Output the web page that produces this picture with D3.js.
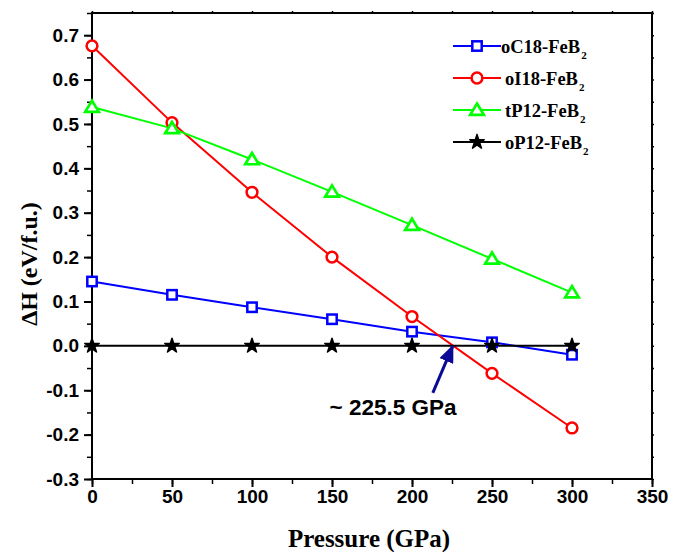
<!DOCTYPE html>
<html>
<head>
<meta charset="utf-8">
<script src="https://cdn.jsdelivr.net/npm/d3@7"></script>
<style>
  body { margin: 0; background: #fff; }
</style>
</head>
<body>
<div id="viz"></div>
<script>
// data
var pressure = [0, 50, 100, 150, 200, 250, 300];
var oC18 = [0.145, 0.115, 0.087, 0.060, 0.032, 0.008, -0.020];
var oI18 = [0.676, 0.503, 0.346, 0.200, 0.066, -0.062, -0.185];
var tP12 = [0.538, 0.490, 0.420, 0.347, 0.272, 0.196, 0.120];
var oP12 = [0, 0, 0, 0, 0, 0, 0];
var seriesNames = ["oC18-FeB", "oI18-FeB", "tP12-FeB", "oP12-FeB"];
var xTicks = [0, 50, 100, 150, 200, 250, 300, 350];
var yTicks = [-0.3, -0.2, -0.1, 0.0, 0.1, 0.2, 0.3, 0.4, 0.5, 0.6, 0.7];
var crossing = 225.5;

var width = 673, height = 552;
var m_left = 92, m_right = 652, m_top = 13, m_bottom = 479;

var svg = d3.select("#viz").append("svg")
  .attr("width", width).attr("height", height);

var x = d3.scaleLinear().domain([0, 350]).range([m_left, m_right]);
var y = d3.scaleLinear().domain([-0.3, 0.75]).range([m_bottom, m_top]);

//==============================================================================
// axes
var minorX = d3.range(0, 351, 25);
var minorY = d3.range(-0.3, 0.751, 0.05);
var yFormat = function(d) { return d3.format(".1f")(d).replace("\u2212", "-"); };

var style_ticks = function(w) {
  return function(g) {
    g.select(".domain").remove();
    g.selectAll("line").attr("stroke-width", w);
    g.selectAll("text")
      .attr("font-family", "'Liberation Sans', Arial, sans-serif")
      .attr("font-weight", "bold")
      .attr("font-size", 19)
      .attr("fill", "#000");
  };
};

svg.append("g")
  .attr("transform", "translate(0," + m_bottom + ")")
  .call(d3.axisBottom(x).tickValues(minorX).tickSize(5).tickFormat(""))
  .call(style_ticks(1.5));
svg.append("g")
  .attr("transform", "translate(0," + m_bottom + ")")
  .call(d3.axisBottom(x).tickValues(xTicks).tickSize(8).tickPadding(3).tickFormat(d3.format("d")))
  .call(style_ticks(2));

svg.append("g")
  .attr("transform", "translate(" + m_left + ",0)")
  .call(d3.axisLeft(y).tickValues(minorY).tickSize(5).tickFormat(""))
  .call(style_ticks(1.5));
svg.append("g")
  .attr("transform", "translate(" + m_left + ",0)")
  .call(d3.axisLeft(y).tickValues(yTicks).tickSize(8).tickPadding(5).tickFormat(yFormat))
  .call(style_ticks(2));

// tiny ticks on top and right
svg.append("g")
  .attr("transform", "translate(0," + m_top + ")")
  .call(d3.axisTop(x).tickValues(minorX).tickSize(2).tickFormat(""))
  .call(style_ticks(1.5));
svg.append("g")
  .attr("transform", "translate(" + m_right + ",0)")
  .call(d3.axisRight(y).tickValues(minorY).tickSize(2).tickFormat(""))
  .call(style_ticks(1.5));

// frame
svg.append("rect")
  .attr("x", m_left).attr("y", m_top)
  .attr("width", m_right - m_left).attr("height", m_bottom - m_top)
  .attr("fill", "none").attr("stroke", "#000").attr("stroke-width", 2);

// axis titles
svg.append("text")
  .attr("x", 369).attr("y", 547)
  .attr("text-anchor", "middle")
  .attr("font-family", "'Liberation Serif', 'Times New Roman', serif")
  .attr("font-weight", "bold").attr("font-size", 25)
  .text("Pressure (GPa)");
svg.append("text")
  .attr("transform", "translate(37,264) rotate(-90)")
  .attr("text-anchor", "middle")
  .attr("font-family", "'Liberation Serif', 'Times New Roman', serif")
  .attr("font-weight", "bold").attr("font-size", 24)
  .text("ΔH (eV/f.u.)");

//==============================================================================
// series
var series = [
  {name: seriesNames[0], values: oC18, color: "#0000ff", marker: "square"},
  {name: seriesNames[1], values: oI18, color: "#ff0000", marker: "circle"},
  {name: seriesNames[2], values: tP12, color: "#00ff00", marker: "triangle"},
  {name: seriesNames[3], values: oP12, color: "#000000", marker: "star"}
];

var line = d3.line()
  .x(function(d) { return x(d[0]); })
  .y(function(d) { return y(d[1]); });

var draw_marker = function(g, kind, color) {
  if (kind === "square") {
    g.append("rect").attr("x", -4.7).attr("y", -4.7).attr("width", 9.4).attr("height", 9.4)
      .attr("fill", "#fff").attr("stroke", color).attr("stroke-width", 2.5);
  } else if (kind === "circle") {
    g.append("circle").attr("r", 5.4)
      .attr("fill", "#fff").attr("stroke", color).attr("stroke-width", 2.5);
  } else if (kind === "triangle") {
    g.append("path").attr("d", "M0,-6.5L6.8,4.8L-6.8,4.8Z")
      .attr("fill", "#fff").attr("stroke", color).attr("stroke-width", 2.7);
  } else {
    g.append("path").attr("d", d3.symbol(d3.symbolStar, 65)())
      .attr("fill", color).attr("stroke", color).attr("stroke-width", 1.5)
      .attr("stroke-linejoin", "round");
  }
};

series.forEach(function(s) {
  var pts = pressure.map(function(p, i) { return [p, s.values[i]]; });
  svg.append("path")
    .datum(pts)
    .attr("d", line)
    .attr("fill", "none")
    .attr("stroke", s.color)
    .attr("stroke-width", 2);
});
series.forEach(function(s) {
  pressure.forEach(function(p, i) {
    var g = svg.append("g").attr("transform", "translate(" + x(p) + "," + y(s.values[i]) + ")");
    draw_marker(g, s.marker, s.color);
  });
});

//==============================================================================
// legend
var legend = svg.append("g");
series.forEach(function(s, i) {
  var ly = 46 + i * 32;
  legend.append("line")
    .attr("x1", 453).attr("x2", 501).attr("y1", ly).attr("y2", ly)
    .attr("stroke", s.color).attr("stroke-width", 2);
  var g = legend.append("g").attr("transform", "translate(477," + ly + ")");
  draw_marker(g, s.marker, s.color);
  var t = legend.append("text")
    .attr("x", i === 0 ? 501 : 505).attr("y", ly + 7)
    .attr("font-family", "'Liberation Serif', 'Times New Roman', serif")
    .attr("font-weight", "bold").attr("font-size", 18.5);
  t.append("tspan").text(s.name);
  t.append("tspan").attr("font-size", 11).attr("dy", 6).attr("dx", 1).text("2");
});

//==============================================================================
// annotation arrow
svg.append("defs").append("marker")
  .attr("id", "head")
  .attr("viewBox", "0 0 12 10")
  .attr("refX", 11).attr("refY", 5)
  .attr("markerWidth", 6).attr("markerHeight", 5)
  .attr("orient", "auto")
  .append("path").attr("d", "M0,0L12,5L0,10Z").attr("fill", "#0a0a96");

svg.append("line")
  .attr("x1", x(213)).attr("y1", y(-0.106))
  .attr("x2", x(crossing)).attr("y2", y(0))
  .attr("stroke", "#0a0a96").attr("stroke-width", 3)
  .attr("marker-end", "url(#head)");

svg.append("text")
  .attr("x", x(148.5)).attr("y", 415)
  .attr("font-family", "'Liberation Sans', Arial, sans-serif")
  .attr("font-weight", "bold").attr("font-size", 22.5)
  .text("~ " + crossing + " GPa");
</script>
</body>
</html>
